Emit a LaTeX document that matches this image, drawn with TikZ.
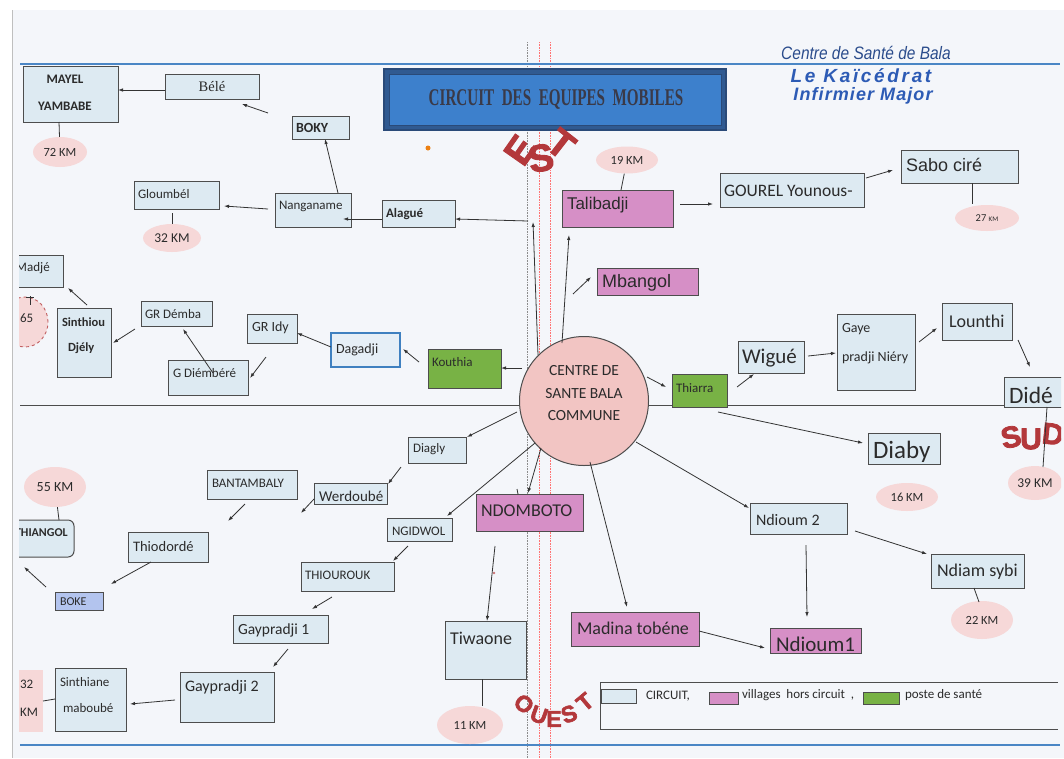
\documentclass[tikz,border=0pt]{standalone}
\usepackage{fontspec}
\setmainfont{Carlito}
\newfontfamily\arialf{Liberation Sans}
\newfontfamily\waf[FakeBold=2.5]{Liberation Sans}
\newfontfamily\tnr{Liberation Serif}
\usetikzlibrary{arrows.meta,calc,shapes.geometric}
\definecolor{pagebg}{HTML}{F4F6FA}
\definecolor{edgec}{HTML}{4D4D4D}
\definecolor{circfill}{HTML}{DDEAF2}
\definecolor{pinkfill}{HTML}{D68FC6}
\definecolor{greenfill}{HTML}{78B245}
\definecolor{dagblue}{HTML}{3F80C0}
\definecolor{dagfill}{HTML}{E6EFF7}
\definecolor{bubfill}{HTML}{F6D8D8}
\definecolor{textc}{HTML}{2B2B2B}
\definecolor{linec}{HTML}{333333}
\definecolor{wordred}{HTML}{B3383B}
\definecolor{blueline}{HTML}{4A86C5}
\definecolor{titlefill}{HTML}{3D80CC}
\definecolor{titleedge}{HTML}{2A4A78}
\definecolor{titletext}{HTML}{3A3A48}
\definecolor{hdrnavy}{HTML}{2B4C8C}
\definecolor{hdrblue}{HTML}{2D5BB5}
\definecolor{circlefill}{HTML}{F2C5C3}
\definecolor{bokefill}{HTML}{B3C4EE}
\newcommand\myfs[1]{\fontsize{#1}{#1}\selectfont}
\newcommand\bx[6]{\node[#6, minimum width={(#4-#2)*1pt}, minimum height={(#5-#3)*1pt}] (#1) at ({(#2+#4)/2},{(#3+#5)/2}) {};}
\newcommand\bb[6]{\node[bub, minimum width={#4*1pt}, minimum height={#5*1pt}] (#1) at (#2,#3) {#6};}
\tikzset{
 cbox/.style={draw=edgec, line width=1pt, fill=circfill, inner sep=0pt, outer sep=0pt},
 pbox/.style={cbox, fill=pinkfill},
 gbox/.style={cbox, fill=greenfill},
 dbox/.style={draw=dagblue, line width=2.6pt, fill=dagfill, inner sep=0pt, outer sep=0pt},
 bub/.style={ellipse, fill=bubfill, inner sep=0pt, text=textc},
 lbl/.style={anchor=west, inner sep=0pt, outer sep=0pt, text=textc},
 ctr/.style={inner sep=0pt, outer sep=0pt, text=textc},
 arr/.style={draw=linec, line width=0.8pt, -{Latex[length=5pt,width=3.5pt]}},
 ln/.style={draw=linec, line width=0.8pt},
 wa/.style={text=wordred, inner sep=0pt}
}
\begin{document}
\begin{tikzpicture}[x=1pt,y=-1pt]
\useasboundingbox (0,0) rectangle (1064,758);
\fill[white] (0,0) rectangle (1064,758);
\fill[pagebg] (12,10) rectangle (1064,758);
\draw[black!25, line width=1pt] (12,10) -- (12,758);
\begin{scope}
\clip (19,0) rectangle (1061,758);
% guide lines
\draw[black!45, densely dotted, line width=0.6pt] (527,42) -- (527,758);
\draw[red!55, densely dotted, line width=0.6pt] (539,42) -- (539,758);
\draw[red!55, densely dotted, line width=0.6pt] (550,42) -- (550,758);
\draw[black!70, line width=0.8pt] (20,405) -- (1060,405);
\draw[blueline, line width=2.5pt] (20,64) -- (1060,64);
\draw[blueline, line width=2.5pt] (20,745) -- (1060,745);
% header
\node[ctr, text=hdrnavy, font=\arialf\itshape\myfs{18}, xscale=0.86] (hdr1) at (866,53) {Centre de Sant\'e de Bala};
\node[ctr, text=hdrblue, font=\arialf\bfseries\itshape\myfs{19}\addfontfeature{LetterSpace=14}] (hdr2) at (861,76) {Le Ka\"ic\'edrat};
\node[ctr, text=hdrblue, font=\arialf\bfseries\itshape\myfs{18}\addfontfeature{LetterSpace=6}] (hdr3) at (863,96) {Infirmier Major};
% title
\node[draw=titleedge, line width=2pt, fill=titleedge!70!titlefill, minimum width=342pt, minimum height=61pt, inner sep=0pt] (title) at (555,99.5) {};
\node[draw=titleedge, line width=0.8pt, fill=titlefill, minimum width=332pt, minimum height=51pt, inner sep=0pt] (titlein) at (555,99.5) {};
\node[ctr, text=titletext, font=\tnr\bfseries\myfs{24}, xscale=0.63] (ttext) at (556,99) {CIRCUIT\ \ DES\ \ EQUIPES\ \ MOBILES};
% word art
\node[wa, font=\waf\bfseries\myfs{38}, rotate=55] (estE) at (520,150) {E};
\node[wa, font=\waf\bfseries\myfs{38}, rotate=10] (estS) at (541,158) {S};
\node[wa, font=\waf\bfseries\myfs{38}, rotate=-38] (estT) at (561,144) {T};
\node[wa, font=\waf\bfseries\myfs{23}, rotate=-40] (oO) at (524,704) {O};
\node[wa, font=\waf\bfseries\myfs{23}, rotate=-20] (oU) at (539,715) {U};
\node[wa, font=\waf\bfseries\myfs{23}, rotate=0] (oE) at (554,719) {E};
\node[wa, font=\waf\bfseries\myfs{23}, rotate=20] (oS) at (569,714) {S};
\node[wa, font=\waf\bfseries\myfs{23}, rotate=40] (oT) at (585,702) {T};
\node[wa, font=\waf\bfseries\myfs{30}, rotate=12] (sS) at (1011,437) {S};
\node[wa, font=\waf\bfseries\myfs{30}, rotate=0] (sU) at (1031,439) {U};
\node[wa, font=\waf\bfseries\myfs{30}, rotate=-6] (sD) at (1053,434) {D};
% bubbles
\bb{km72}{60}{152}{54}{30}{\myfs{12.5}72 KM}
\bb{km32}{172}{238}{58}{28}{\myfs{13.5}32 KM}
\bb{km19}{627}{160}{62}{27}{\myfs{12.5}19 KM}
\bb{km27}{987}{218}{64}{26}{\myfs{10.5}27 {\myfs{7}KM}}
\bb{km16}{907}{497}{62}{28}{\myfs{12.5}16 KM}
\bb{km39}{1035}{483}{54}{34}{\myfs{13.5}39 KM}
\bb{km22}{982}{620}{62}{38}{\myfs{12.5}22 KM}
\bb{km11}{470}{725}{66}{38}{\myfs{12.5}11 KM}
\bb{km55}{55}{487}{62}{40}{\myfs{14}55 KM}
\node[ellipse, draw=wordred!80, dashed, line width=0.9pt, fill=bubfill, minimum width=46pt, minimum height=50pt, inner sep=0pt] (km65) at (25,322) {};
\node[lbl, font=\myfs{13}] (t65) at (20,318) {65};
\node[fill=bubfill, minimum width=31pt, minimum height=62pt, inner sep=0pt] (km32b) at (27.5,701) {};
\node[lbl, font=\myfs{13}] (t32a) at (20,684) {32};
\node[lbl, font=\myfs{13}] (t32b) at (20,712) {KM};
% boxes
\bx{mayel}{23}{66}{118}{122}{cbox}
\bx{bele}{165}{74}{259}{99}{cbox}
\bx{boky}{292}{116}{349}{139}{cbox}
\bx{nang}{275}{193}{351}{227}{cbox}
\bx{gloum}{134}{181}{219}{209}{cbox}
\bx{alague}{382}{200}{455}{227}{cbox}
\bx{tali}{562}{190}{673}{227}{pbox}
\bx{gourel}{720}{173}{864}{207}{cbox}
\bx{sabo}{901}{150}{1018}{183}{cbox}
\bx{mbangol}{597}{268}{698}{295}{pbox}
\bx{kouthia}{428}{349}{501}{388}{gbox}
\bx{dagadji}{331}{333}{400}{367}{dbox}
\bx{gridy}{247}{314}{297}{343}{cbox}
\bx{gdiem}{168}{360}{248}{395}{cbox}
\bx{grdemba}{141}{301}{212}{326}{cbox}
\bx{sinthiou}{57}{308}{111}{377}{cbox}
\bx{madje}{10}{255}{63}{287}{cbox}
\bx{thiarra}{672}{374}{727}{407}{gbox}
\bx{wigue}{738}{341}{804}{373}{cbox}
\bx{gaye}{837}{314}{915}{390}{cbox}
\bx{lounthi}{942}{303}{1012}{340}{cbox}
\bx{dide}{1004}{377}{1070}{407}{cbox}
\bx{diaby}{868}{433}{940}{464}{cbox}
\bx{ndioumii}{750}{503}{847}{534}{cbox}
\bx{ndiam}{931}{554}{1024}{588}{cbox}
\bx{ndioumi}{770}{628}{861}{653}{pbox}
\bx{madina}{571}{612}{699}{646}{pbox}
\bx{ndomboto}{476}{494}{583}{531}{pbox}
\bx{tiwaone}{445}{621}{526}{679}{cbox}
\bx{diagly}{408}{437}{466}{463}{cbox}
\bx{werd}{314}{483}{387}{504}{cbox}
\bx{bant}{207}{470}{297}{499}{cbox}
\bx{ngid}{387}{518}{452}{541}{cbox}
\bx{thiou}{301}{562}{394}{591}{cbox}
\bx{gayi}{233}{615}{328}{643}{cbox}
\bx{gayii}{180}{672}{274}{722}{cbox}
\bx{sinthiane}{55}{668}{126}{731}{cbox}
\bx{thiod}{128}{532}{208}{562}{cbox}
\bx{boke}{55}{592}{103}{610}{cbox, fill=bokefill}
\bx{thiangol}{4}{520}{74}{557}{cbox, rounded corners=6pt}
% centre
\node[circle, draw=edgec, line width=1pt, fill=circlefill, minimum size=129pt, inner sep=0pt] (centre) at (584,401) {};
\node[ctr, font=\myfs{15.5}] (c1) at (584,371) {CENTRE DE};
\node[ctr, font=\myfs{15.5}] (c2) at (584,394) {SANTE BALA};
\node[ctr, font=\myfs{15.5}] (c3) at (584,416) {COMMUNE};
% texts
\node[ctr, font=\bfseries\myfs{13}] (tmayel1) at (65,79) {MAYEL};
\node[ctr, font=\bfseries\myfs{13}] (tmayel2) at (65,106) {YAMBABE};
\node[ctr, font=\tnr\myfs{14.5}] (tbele) at (212,87) {B\'el\'e};
\node[lbl, font=\bfseries\myfs{14}] (tboky) at (296,128) {BOKY};
\node[lbl, font=\myfs{13}] (tnang) at (279,206) {Nanganame};
\node[lbl, font=\myfs{13}] (tgloum) at (138,194) {Gloumb\'el};
\node[lbl, font=\bfseries\myfs{13}] (talague) at (386,214) {Alagu\'e};
\node[lbl, font=\arialf\myfs{17}] (ttali) at (567,205) {Talibadji};
\node[lbl, font=\myfs{17.5}] (tgourel) at (724,191) {GOUREL Younous-};
\node[lbl, font=\arialf\myfs{18}] (tsabo) at (906,165) {Sabo cir\'e};
\node[lbl, font=\arialf\myfs{18}] (tmbangol) at (602,283) {Mbangol};
\node[lbl, font=\myfs{13}] (tkouthia) at (432,362) {Kouthia};
\node[lbl, font=\myfs{14}] (tdagadji) at (336,350) {Dagadji};
\node[lbl, font=\myfs{14}] (tgridy) at (252,328) {GR Idy};
\node[lbl, font=\myfs{13}] (tgdiem) at (173,373) {G Di\'emb\'er\'e};
\node[lbl, font=\myfs{13}] (tgrdemba) at (145,314) {GR D\'emba};
\node[lbl, font=\bfseries\myfs{12.5}] (tsin1) at (62,322) {Sinthiou};
\node[lbl, font=\bfseries\myfs{12.5}] (tsin2) at (68,348) {Dj\'ely};
\node[lbl, font=\myfs{13}] (tmadje) at (16,268) {Madj\'e};
\node[lbl, font=\myfs{13}] (tthiarra) at (676,388) {Thiarra};
\node[lbl, font=\myfs{21}] (twigue) at (742,358) {Wigu\'e};
\node[lbl, font=\myfs{14}] (tgaye1) at (842,329) {Gaye};
\node[lbl, font=\myfs{14}] (tgaye2) at (842,358) {pradji Ni\'ery};
\node[lbl, font=\myfs{18}] (tlounthi) at (949,321) {Lounthi};
\node[lbl, font=\myfs{23.5}] (tdide) at (1009,395) {Did\'e};
\node[lbl, font=\myfs{25}] (tdiaby) at (873,452) {Diaby};
\node[lbl, font=\myfs{16}] (tndii) at (756,520) {Ndioum 2};
\node[lbl, font=\myfs{18}] (tndiam) at (937,572) {Ndiam sybi};
\node[lbl, font=\myfs{21}] (tndi) at (776,644) {Ndioum1};
\node[lbl, font=\myfs{18}] (tmadina) at (577,628) {Madina tob\'ene};
\node[lbl, font=\myfs{18}] (tndomboto) at (481,511) {NDOMBOTO};
\node[lbl, font=\myfs{18}] (ttiwaone) at (450,638) {Tiwaone};
\node[lbl, font=\myfs{13}] (tdiagly) at (413,449) {Diagly};
\node[lbl, font=\myfs{15}] (twerd) at (319,496) {Werdoub\'e};
\node[lbl, font=\myfs{13}] (tbant) at (212,483) {BANTAMBALY};
\node[lbl, font=\myfs{13}] (tngid) at (392,531) {NGIDWOL};
\node[lbl, font=\myfs{13}] (tthiou) at (305,575) {THIOUROUK};
\node[lbl, font=\myfs{15.5}] (tgayi) at (238,630) {Gaypradji 1};
\node[lbl, font=\myfs{16}] (tgayii) at (185,687) {Gaypradji 2};
\node[lbl, font=\myfs{13}] (tsinth1) at (60,682) {Sinthiane};
\node[lbl, font=\myfs{13}] (tsinth2) at (63,708) {maboub\'e};
\node[lbl, font=\myfs{14.5}] (tthiod) at (133,547) {Thiodord\'e};
\node[lbl, font=\myfs{12}] (tboke) at (60,602) {BOKE};
\node[lbl, font=\bfseries\myfs{12}] (tthiangol) at (15,533) {THIANGOL};
% links to distance bubbles
\draw[ln] (mayel.south -| 59,0) -- (km72);
\draw[ln] (172,213) -- (km32);
\draw[ln] (tali.north -| 621,0) -- (km19);
\draw[ln] (sabo.south -| 972,0) -- (972,204);
\draw[ln] (dide.south -| 1047,0) -- (1043,467);
\draw[ln] (ndiam.south -| 974,0) -- (979,602);
\draw[ln] (tiwaone.south -| 482,0) -- (482,706);
\draw[ln] (km55) -- (thiangol.north -| 59,0);
\draw[ln] (sinthiane.west |- 0,699) -- (43,701);
\draw[ln] (30,296) -- (30,305);
\draw[ln] (26,297) -- (34,297);
% arrows
\draw[arr] (bele.west |- 0,90) -- (mayel.east |- 0,90);
\draw[arr] (268,113) -- (242,104);
\draw[arr] (338,193) -- (boky.south -| 325,0);
\draw[arr] (268,209) -- (224,206);
\draw[arr] (alague.west |- 0,219) -- (343,219);
\draw[arr] (538,355) -- (533,222);
\draw[arr] (528,221) -- (alague.east |- 0,219);
\draw[arr] (562,343) -- (569,235);
\draw[arr] (680,204) -- (713,204);
\draw[arr] (866,178) -- (893,170);
\draw[arr] (573,294) -- (591,277);
\draw[arr] (522,368) -- (kouthia.east |- 0,368);
\draw[arr] (419,362) -- (403,349);
\draw[arr] (dagadji.west |- 0,347) -- (297,333);
\draw[arr] (266,357) -- (250,378);
\draw[arr] (213,373) -- (183,329);
\draw[arr] (135,329) -- (113,343);
\draw[arr] (87,305) -- (68,288);
\draw[arr] (647,377) -- (666,387);
\draw[arr] (737,387) -- (754,374);
\draw[arr] (808,356) -- (836,353);
\draw[arr] (919,342) -- (937,328);
\draw[arr] (1018,340) -- (1030,367);
\draw[arr] (718,412) -- (863,443);
\draw[arr] (636,442) -- (749,508);
\draw[arr] (855,531) -- (927,554);
\draw[arr] (806,545) -- (807,617);
\draw[arr] (madina.east |- 0,631) -- (765,648);
\draw[arr] (590,462) -- (627,607);
\draw[arr] (541,448) -- (528,493);
\draw[ln] (517,489) -- (518,494);
\draw[arr] (495,546) -- (487,621);
\draw[arr] (517,412) -- (467,437);
\draw[arr] (401,467) -- (388,484);
\draw[arr] (314,499) -- (301,513);
\draw[arr] (245,504) -- (228,521);
\draw[arr] (535,443) -- (447,516);
\draw[arr] (408,546) -- (393,561);
\draw[arr] (332,597) -- (312,609);
\draw[arr] (288,649) -- (273,667);
\draw[arr] (175,700) -- (130,704);
\draw[arr] (151,562) -- (111,584);
\draw[arr] (46,587) -- (24,567);
% small marks
\fill[orange!70!brown] (428,148) circle (2.5);
\fill[wordred!70] (494,573) circle (1.3);
% legend
\draw[edgec, line width=0.9pt] (1058,682) -- (600,682) -- (600,729) -- (1058,729);
\bx{lgc}{601}{689}{636}{703}{cbox}
\node[lbl, font=\myfs{13}] (tlgc) at (646,696) {CIRCUIT,};
\bx{lgp}{709}{692}{738}{704}{pbox}
\node[lbl, font=\myfs{13}] (tlgp) at (742,695) {villages\ \ hors circuit\ \ ,};
\bx{lgg}{863}{692}{899}{704}{gbox}
\node[lbl, font=\myfs{13}] (tlgg) at (905,695) {poste de sant\'e};
\end{scope}
\end{tikzpicture}
\end{document}
